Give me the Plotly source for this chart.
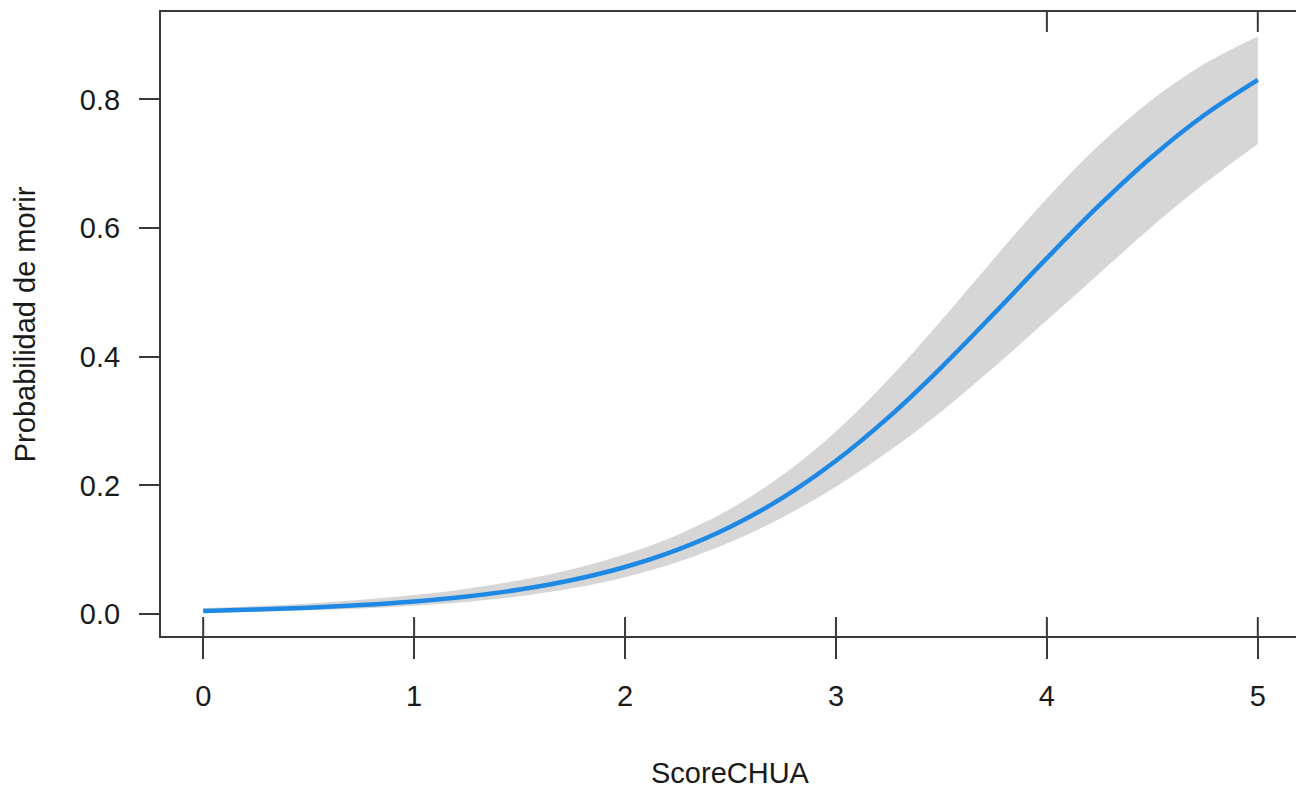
import plotly.graph_objects as go

# ---- data ----
score = [0.0, 0.25, 0.5, 0.75, 1.0, 1.25, 1.5, 1.75, 2.0, 2.25, 2.5,
         2.75, 3.0, 3.25, 3.5, 3.75, 4.0, 4.25, 4.5, 4.75, 5.0]
prob = [0.0050, 0.0071, 0.0099, 0.0140, 0.0196, 0.0274, 0.0382, 0.0531,
        0.0733, 0.1003, 0.1359, 0.1815, 0.2383, 0.3062, 0.3837, 0.4675,
        0.5533, 0.6360, 0.7114, 0.7766, 0.8306]
upper = [0.0094, 0.0125, 0.0167, 0.0223, 0.0297, 0.0395, 0.0526, 0.0699,
         0.0929, 0.1235, 0.1640, 0.2170, 0.2840, 0.3650, 0.4570, 0.5530,
         0.6460, 0.7300, 0.8000, 0.8560, 0.8980]
lower = [0.0027, 0.0040, 0.0059, 0.0087, 0.0129, 0.0189, 0.0276, 0.0401,
         0.0575, 0.0810, 0.1120, 0.1510, 0.1980, 0.2530, 0.3150, 0.3840,
         0.4570, 0.5300, 0.6030, 0.6700, 0.7310]
x_ticks = [0, 1, 2, 3, 4, 5]
x_labels = ["0", "1", "2", "3", "4", "5"]
y_ticks = [0.0, 0.2, 0.4, 0.6, 0.8]
y_labels = ["0.0", "0.2", "0.4", "0.6", "0.8"]
rug_bottom = [0, 1, 2, 3, 4, 5]
rug_top = [4, 5]

FONT = "Liberation Sans, Arial, Helvetica, sans-serif"
AXC = "#3a3a3a"
TXT = "#1a1a1a"

fig = go.Figure()
fig.add_trace(go.Scatter(x=score, y=lower, mode="lines",
                         line=dict(width=0, shape="spline", color="#D3D3D3"),
                         showlegend=False, hoverinfo="skip"))
fig.add_trace(go.Scatter(x=score, y=upper, mode="lines", fill="tonexty",
                         fillcolor="#D6D6D6",
                         line=dict(width=0, shape="spline", color="#D3D3D3"),
                         showlegend=False, hoverinfo="skip"))
fig.add_trace(go.Scatter(x=score, y=prob, mode="lines",
                         line=dict(width=4.5, shape="spline", color="#1E88E5"),
                         showlegend=False))

shapes = []
for v in rug_bottom:
    shapes.append(dict(type="line", xref="x", yref="y domain", x0=v, x1=v,
                       y0=0, y1=19 / 626, line=dict(color=AXC, width=2)))
for v in rug_top:
    shapes.append(dict(type="line", xref="x", yref="y domain", x0=v, x1=v,
                       y0=1, y1=1 - 20 / 626, line=dict(color=AXC, width=2)))

fig.update_layout(
    width=1296, height=782,
    margin=dict(l=153, r=2, t=2, b=154),
    paper_bgcolor="white", plot_bgcolor="white",
    font=dict(family=FONT, size=29, color=TXT),
    shapes=shapes,
    xaxis=dict(range=[-0.2, 5.2], tickvals=x_ticks, ticktext=x_labels,
               showline=True, mirror=True, linecolor=AXC, linewidth=2,
               ticks="outside", ticklen=21, tickwidth=2, tickcolor=AXC,
               showgrid=False, zeroline=False, ticklabelstandoff=12,
               tickfont=dict(family=FONT, size=29, color=TXT)),
    yaxis=dict(range=[-0.034, 0.936], tickvals=y_ticks, ticktext=y_labels,
               showline=True, mirror=True, linecolor=AXC, linewidth=2,
               ticks="outside", ticklen=20, tickwidth=2, tickcolor=AXC,
               showgrid=False, zeroline=False, ticklabelstandoff=13,
               tickfont=dict(family=FONT, size=29, color=TXT)),
    annotations=[
        dict(text="ScoreCHUA", xref="paper", yref="paper", x=0.5, y=-0.2188,
             xanchor="center", yanchor="middle", showarrow=False,
             font=dict(family=FONT, size=29, color=TXT)),
        dict(text="Probabilidad de morir", xref="paper", yref="paper",
             x=-0.1192, y=0.5, xanchor="center", yanchor="middle",
             textangle=-90, showarrow=False,
             font=dict(family=FONT, size=29, color=TXT)),
    ],
)

fig.write_html("out.html")
